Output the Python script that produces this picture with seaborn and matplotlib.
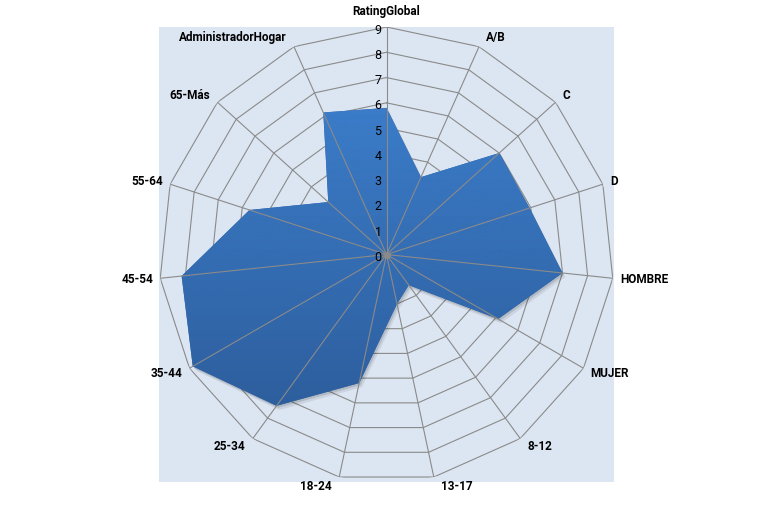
import numpy as np
import pandas as pd
import seaborn as sns
import matplotlib
matplotlib.use("Agg")
import matplotlib.pyplot as plt
import matplotlib.patheffects as pe
from matplotlib.patches import Rectangle
from matplotlib.image import BboxImage
from matplotlib.colors import LinearSegmentedColormap

# valores (escala 0-9)
categorias = ["RatingGlobal", "A/B", "C", "D", "HOMBRE", "MUJER", "8-12", "13-17",
              "18-24", "25-34", "35-44", "45-54", "55-64", "65-Más", "AdministradorHogar"]
valores = [5.8, 3.35, 6.0, 5.95, 7.0, 5.1, 1.5, 2.0, 5.2, 7.4, 8.85, 8.15, 5.7, 3.1, 6.15]
niveles = [0, 1, 2, 3, 4, 5, 6, 7, 8, 9]

sns.set_style("white")
plt.rcParams['font.family'] = ['Roboto', 'DejaVu Sans']

df = pd.DataFrame({"categoria": categorias, "valor": valores})
n = len(df)
df["angulo"] = np.arange(n) * 2 * np.pi / n
ang = np.append(df["angulo"].values, df["angulo"].values[0])
val = np.append(df["valor"].values, df["valor"].values[0])

gris = "#8A8A8A"
fig = plt.figure(figsize=(7.76, 5.08), dpi=100)
rect = [159 / 776, 26 / 508, 455 / 776, 455 / 508]
fig.patches.append(Rectangle((rect[0], rect[1]), rect[2], rect[3], transform=fig.transFigure,
                             facecolor="#DCE6F2", edgecolor="none", zorder=-1))

ax = fig.add_axes(rect, projection="polar")
ax.set_theta_zero_location("N")
ax.set_theta_direction(-1)
ax.set_ylim(0, niveles[-1])
ax.patch.set_visible(False)
ax.spines["polar"].set_visible(False)
ax.grid(False)
ax.set_xticks([])
ax.set_yticks([])

# anillos poligonales
for t in niveles[1:]:
    ax.plot(ang, [t] * len(ang), color=gris, lw=0.8, zorder=1)

# area rellena con degradado y sombra suave
poly = ax.fill(ang, val, color="#3469B0", lw=0, zorder=2)[0]
poly.set_path_effects([pe.SimplePatchShadow(offset=(2, -3), shadow_rgbFace="k", alpha=0.08),
                       pe.SimplePatchShadow(offset=(1, -1.5), shadow_rgbFace="k", alpha=0.12),
                       pe.Normal()])
cmap = LinearSegmentedColormap.from_list("azul", ["#3F84D4", "#2A5793"])
grad = BboxImage(ax.bbox, cmap=cmap, interpolation="bicubic", origin="upper")
grad.set_data(np.linspace(0, 1, 256).reshape(-1, 1))
grad.set_clip_path(poly)
grad.set_zorder(3)
ax.add_artist(grad)

# radios
for a in df["angulo"]:
    ax.plot([a, a], [0, niveles[-1]], color=gris, lw=0.8, zorder=4)
ax.plot([0], [0], "o", color=gris, ms=4, zorder=5)

# etiquetas de categorias
for _, fila in df.iterrows():
    a = fila["angulo"]
    s, c = np.sin(a), np.cos(a)
    if abs(s) < 0.05:
        ha, dx, dy = "center", 0, 15
    else:
        ha = "left" if s > 0 else "right"
        dx = 7 if s > 0 else -7
        dy = 10 * c
    ax.annotate(fila["categoria"], xy=(a, niveles[-1]), xytext=(dx, dy),
                textcoords="offset pixels", ha=ha, va="center",
                fontsize=8.5, fontweight="bold", color="black", annotation_clip=False)

# escala radial
for t in niveles:
    ax.annotate(str(t), xy=(0, t), xytext=(-5, -3), textcoords="offset pixels",
                ha="right", va="center", fontsize=9, color="black", zorder=6)

fig.savefig("out.png", dpi=100)
